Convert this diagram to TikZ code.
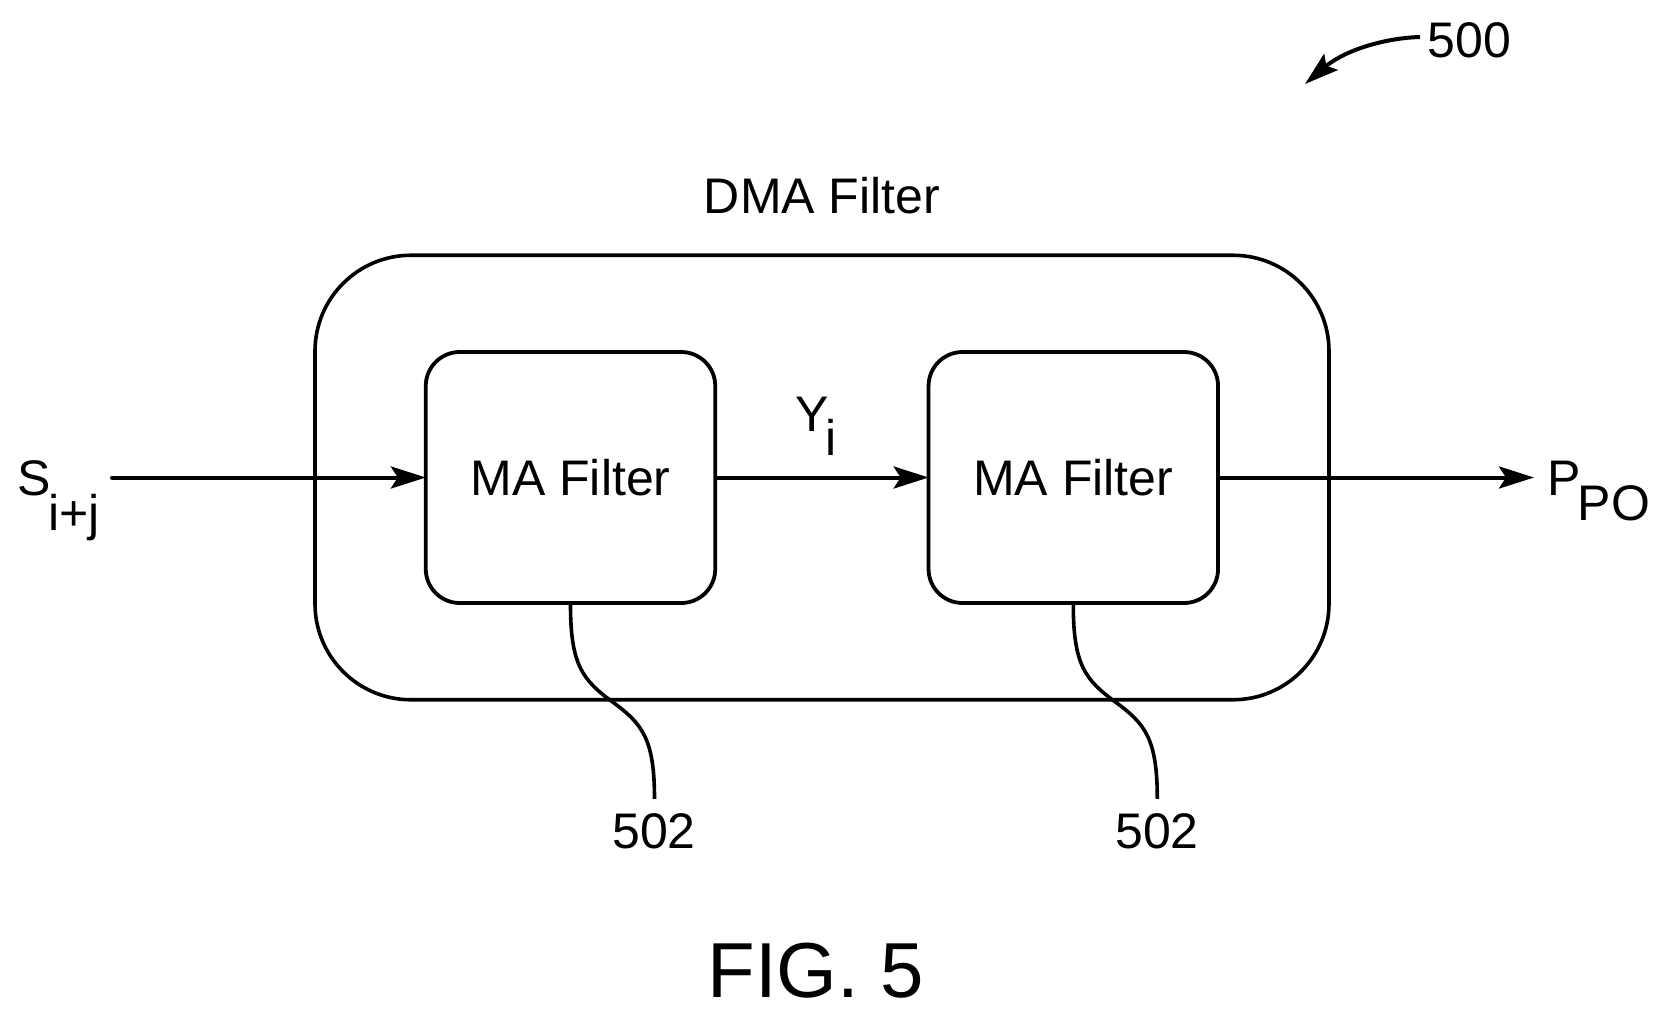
\documentclass[tikz,border=0pt]{standalone}
\usepackage{fontspec}
\setmainfont{Liberation Sans}
\usetikzlibrary{arrows.meta, positioning, calc}
\tikzstyle{outerblock} = [draw, line width=1.8pt, rounded corners=48pt, minimum width=507pt, minimum height=222.25pt]
\tikzstyle{textblock} = [draw, line width=1.9pt, rounded corners=17pt, minimum width=144.75pt, minimum height=125.5pt, align=center]
\tikzstyle{arrow} = [line width=2pt, ->, >={Stealth[length=17.5pt, width=11pt, inset=3.5pt]}, shorten >=-1pt]
\tikzstyle{lead} = [line width=1.8pt]
\tikzstyle{label} = [inner sep=0pt, font=\fontsize{25}{25}\selectfont]
\newcommand{\lowtext}[2]{\kern-1.5pt\raisebox{#1}{#2}}

\begin{document}
\begin{tikzpicture}[x=0.5pt, y=-0.5pt]
        \useasboundingbox (0,0) rectangle (1667,1019);

        % Filter blocks
        \node[textblock, label] (ma1) at (570.5,477.5) {MA Filter};
        \node[textblock, label, right=104.75pt of ma1] (ma2) {MA Filter};
        \node[outerblock] (dma) at (822,477.5) {};
        \node[label, above=19.5pt of dma] (dmalabel) {DMA Filter};

        % Input and output
        \coordinate (inp) at (112,477.5);
        \coordinate (outp) at (1532,477.5);
        \node[label, anchor=base west] (sin) at (17.5,495) {S\lowtext{-17.5pt}{i+j}};
        \node[label, anchor=base west] (pout) at (1547,495) {P\lowtext{-12.5pt}{PO}};
        \node[label, anchor=base west] (yi) at (795,431) {Y\lowtext{-12pt}{i}};

        % Arrows
        \draw[arrow, line cap=round] (inp) -- (ma1);
        \draw[arrow] (ma1) -- (ma2);
        \draw[arrow] (ma2) -- (outp);

        % Callouts
        \node[label, anchor=base] (num1) at (654,848) {502};
        \node[label, anchor=base] (num2) at (1157,848) {502};
        \coordinate (end1) at ($(ma1.south)+(84,194)$);
        \coordinate (end2) at ($(ma2.south)+(84,194)$);
        \draw[lead] (ma1.south) .. controls ($(ma1.south)+(0,60)$) and ($(ma1.south)+(12,75)$) .. ($(ma1.south)+(42,97)$)
        .. controls ($(ma1.south)+(72,119)$) and ($(end1)+(0,-60)$) .. (end1);
        \draw[lead] (ma2.south) .. controls ($(ma2.south)+(0,60)$) and ($(ma2.south)+(12,75)$) .. ($(ma2.south)+(42,97)$)
        .. controls ($(ma2.south)+(72,119)$) and ($(end2)+(0,-60)$) .. (end2);

        % Reference numeral
        \node[label, anchor=base west] (num500) at (1427,57) {500};
        \coordinate (tail) at (1420,37);
        \coordinate (tip) at (1305,84);
        \draw[arrow, shorten >=0pt, >={Stealth[length=17pt, width=10.5pt, inset=3pt]}] (tail) .. controls (1385,38) and (1345,50) .. (tip);

        % Figure title
        \node[inner sep=0pt, anchor=base, font=\fontsize{39}{39}\selectfont] (title) at (816,997) {FIG. 5};
\end{tikzpicture}
\end{document}
